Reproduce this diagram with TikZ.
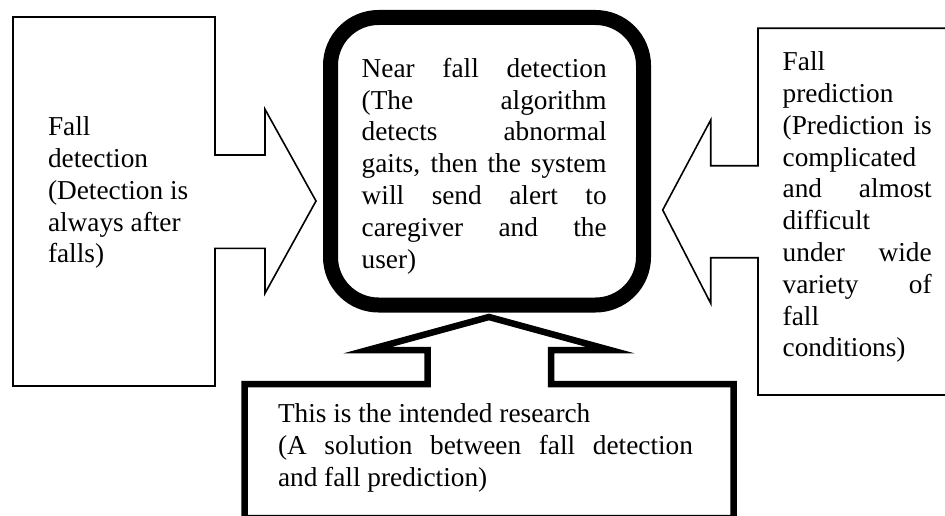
\documentclass[tikz,border=0pt]{standalone}
\usepackage{fontspec}
\setmainfont{Liberation Serif}
% a line stretched to the given width (justified)
\newcommand\jline[2]{\makebox[#1][s]{#2}}
\tikzset{
  thinco/.style={draw=black, line width=1.6pt, line join=miter, fill=white},
  thickco/.style={draw=black, line width=6.5pt, line join=miter, fill=white},
  nearbox/.style={draw=black, line width=15pt, rounded corners=48pt, fill=white},
  txt/.style={anchor=north west, inner sep=0pt, outer sep=0pt, align=left,
              font=\fontsize{27.3}{31.8}\selectfont}
}
\begin{document}
\begin{tikzpicture}[x=1pt, y=-1pt]
  \useasboundingbox (0,0) rectangle (945,516);
  \fill[white] (0,0) rectangle (945,516);
  \clip (0,0) rectangle (945,516);

  % left callout: fall detection
  \draw[thinco] (13,17) -- (215,17) -- (215,155) -- (265,155) -- (265,109.3)
    -- (316,201) -- (265,293.3) -- (265,248.3) -- (215,248.3) -- (215,386)
    -- (13,386) -- cycle;

  % right callout: fall prediction (runs off the right edge)
  \draw[thinco] (960,28.3) -- (758,28.3) -- (758,165.7) -- (710.7,165.7)
    -- (710.7,120) -- (662.7,210) -- (710.7,303.3) -- (710.7,257.7)
    -- (758,257.7) -- (758,395) -- (960,395);

  % bottom callout: intended research
  \draw[thickco] (427.5,384) -- (427.5,350) -- (368,350) -- (489,317)
    -- (610,350) -- (551,350) -- (551,384) -- (733.5,384) -- (733.5,518)
    -- (244.5,518) -- (244.5,384) -- cycle;

  % central rounded box: near fall detection
  \draw[nearbox] (330.5,17.5) rectangle (643.5,305);

  \node[txt] (det) at (48,113.4) {\strut Fall\\detection\\(Detection is\\always after\\falls)};

  \node[txt] (near) at (361.7,55) {\strut\jline{245pt}{Near fall detection}\\
    \jline{245pt}{(The algorithm}\\
    \jline{245pt}{detects abnormal}\\
    \jline{245pt}{gaits, then the system}\\
    \jline{245pt}{will send alert to}\\
    \jline{245pt}{caregiver and the}\\
    user)};

  \node[txt] (pred) at (782.7,48.4) {\strut Fall\\prediction\\
    \jline{149pt}{(Prediction is}\\
    complicated\\
    \jline{149pt}{and almost}\\
    difficult\\
    \jline{149pt}{under wide}\\
    \jline{149pt}{variety of}\\
    fall\\conditions)};

  \node[txt] (research) at (278,400.7) {\strut This is the intended research\\
    \jline{415pt}{(A solution between fall detection}\\
    and fall prediction)};
\end{tikzpicture}
\end{document}
